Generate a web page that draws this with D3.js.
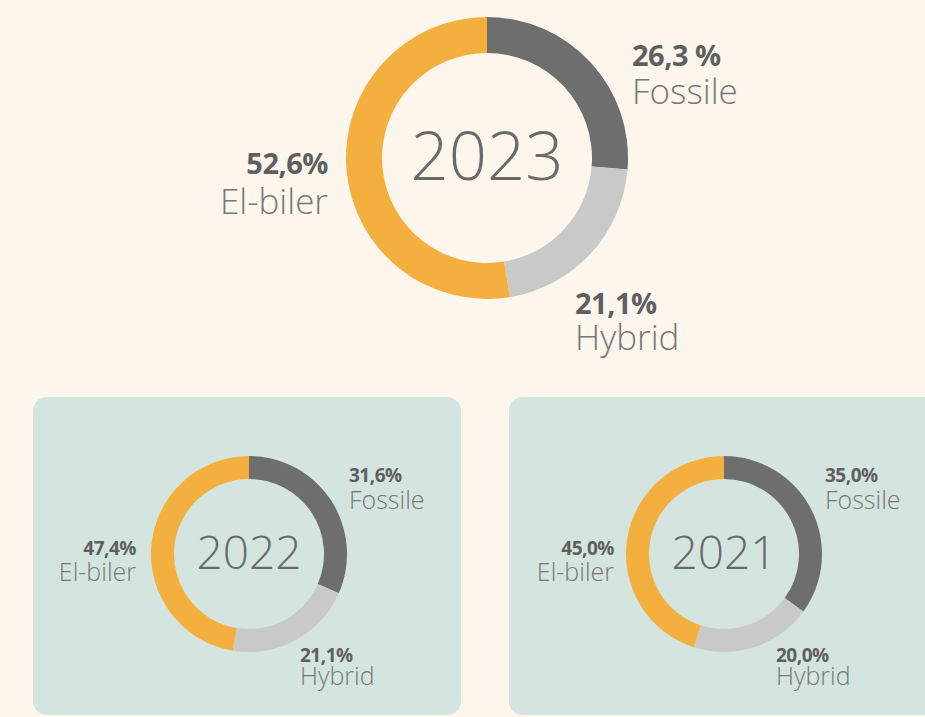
<!DOCTYPE html>
<html>
<head>
<meta charset="utf-8">
<script src="https://cdn.jsdelivr.net/npm/d3@7"></script>
<style>
  html, body { margin: 0; padding: 0; background: #fcf6ec; }
  svg { display: block; }
  text { font-family: "Open Sans", "Noto Sans", sans-serif; }
</style>
</head>
<body>
<svg id="chart" width="925" height="717"></svg>
<script>
// ---- data ----
const years = ["2023", "2022", "2021"];
const categories = ["Fossile", "Hybrid", "El-biler"];
const fossile = [26.3, 31.6, 35.0];
const hybrid = [21.1, 21.1, 20.0];
const elbiler = [52.6, 47.4, 45.0];
const fossileLabels = ["26,3 %", "31,6%", "35,0%"];
const hybridLabels = ["21,1%", "21,1%", "20,0%"];
const elbilerLabels = ["52,6%", "47,4%", "45,0%"];

const colors = d3.scaleOrdinal().domain(categories).range(["#6e6e6e", "#c9c9c9", "#f3b03e"]);

const svg = d3.select("#chart");
svg.append("rect").attr("width", 925).attr("height", 717).attr("fill", "#fcf6ec");

// panels for smaller charts
const panels = [
  {x: 33, w: 428},
  {x: 509, w: 440}
];
svg.selectAll("rect.panel").data(panels).enter().append("rect")
  .attr("class", "panel")
  .attr("x", d => d.x).attr("y", 397)
  .attr("width", d => d.w).attr("height", 318)
  .attr("rx", 14).attr("ry", 14)
  .attr("fill", "#d4e5df");

// layout for each donut
const layouts = [
  {cx: 487, cy: 158, ro: 141, ri: 105, yearSize: 67, yearDy: 22,
   numSize: 29, wordSize: 35,
   fos: {dx: 145, ny: -92, wy: -54}, el: {dx: -159, ny: 16, wy: 56}, hy: {dx: 88, ny: 156, wy: 192}},
  {cx: 249, cy: 554, ro: 98, ri: 75, yearSize: 46, yearDy: 15,
   numSize: 19, wordSize: 25,
   fos: {dx: 100, ny: -72, wy: -45}, el: {dx: -113, ny: 1, wy: 27}, hy: {dx: 51, ny: 108, wy: 131}},
  {cx: 724, cy: 554, ro: 98, ri: 75, yearSize: 46, yearDy: 15,
   numSize: 19, wordSize: 25,
   fos: {dx: 101, ny: -72, wy: -45}, el: {dx: -110, ny: 1, wy: 27}, hy: {dx: 52, ny: 108, wy: 131}}
];

const pie = d3.pie().sort(null).value(d => d.value);

years.forEach((year, i) => {
  const L = layouts[i];
  const data = [
    {key: "Fossile", value: fossile[i], label: fossileLabels[i]},
    {key: "Hybrid", value: hybrid[i], label: hybridLabels[i]},
    {key: "El-biler", value: elbiler[i], label: elbilerLabels[i]}
  ];
  const arc = d3.arc().innerRadius(L.ri).outerRadius(L.ro);
  const g = svg.append("g").attr("transform", `translate(${L.cx},${L.cy})`);
  g.selectAll("path").data(pie(data)).enter().append("path")
    .attr("d", arc)
    .attr("fill", d => colors(d.data.key));

  g.append("text")
    .attr("x", 0).attr("y", L.yearDy)
    .attr("text-anchor", "middle")
    .attr("font-size", L.yearSize)
    .attr("font-weight", 300)
    .attr("fill", "#6a6a6a")
    .text(year);

  const labelPos = {"Fossile": L.fos, "Hybrid": L.hy, "El-biler": L.el};
  data.forEach(d => {
    const p = labelPos[d.key];
    const anchor = p.dx < 0 ? "end" : "start";
    g.append("text")
      .attr("x", p.dx).attr("y", p.ny)
      .attr("text-anchor", anchor)
      .attr("font-size", L.numSize)
      .attr("font-weight", 700)
      .attr("fill", "#5f5f5f")
      .attr("letter-spacing", -0.5)
      .text(d.label);
    g.append("text")
      .attr("x", p.dx).attr("y", p.wy)
      .attr("text-anchor", anchor)
      .attr("font-size", L.wordSize)
      .attr("font-weight", 300)
      .attr("fill", "#787878")
      .text(d.key);
  });
});
</script>
</body>
</html>
